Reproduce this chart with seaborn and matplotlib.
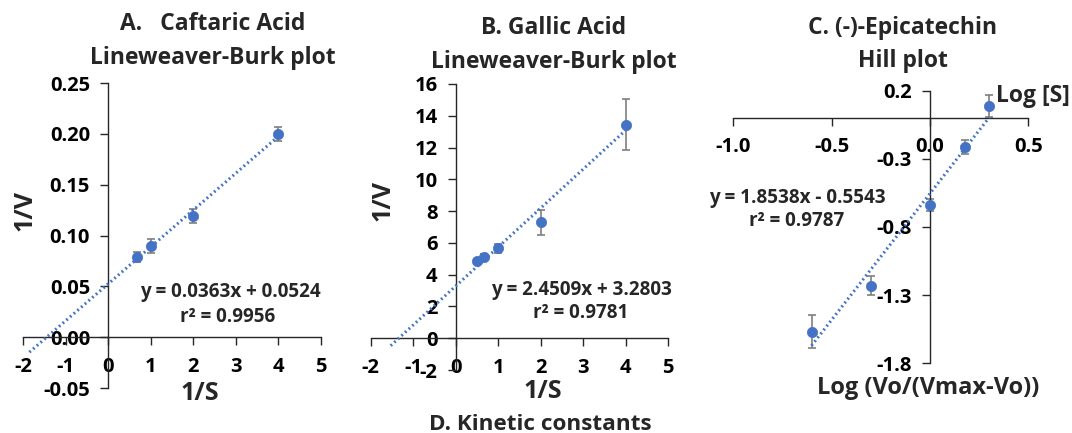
import numpy as np
import pandas as pd
import seaborn as sns
import matplotlib
matplotlib.use("Agg")
import matplotlib.pyplot as plt
from matplotlib.ticker import FormatStrFormatter

# ---------------- data ----------------
# Panel A: Caftaric acid (Lineweaver-Burk)
a_x = [0.667, 1.0, 2.0, 4.0]
a_y = [0.079, 0.090, 0.119, 0.200]
a_err = [0.005, 0.007, 0.007, 0.007]
a_slope, a_icpt = 0.0363, 0.0524
a_trend_range = [-1.85, 4.0]
a_eq = ["y = 0.0363x + 0.0524", "r² = 0.9956"]
a_title = ["A.   Caftaric Acid", "Lineweaver-Burk plot"]
a_xticks = [-2, -1, 0, 1, 2, 3, 4, 5]
a_yticks = [-0.05, 0.00, 0.05, 0.10, 0.15, 0.20, 0.25]

# Panel B: Gallic acid (Lineweaver-Burk)
b_x = [0.5, 0.667, 1.0, 2.0, 4.0]
b_y = [4.85, 5.10, 5.65, 7.30, 13.45]
b_err = [0.15, 0.2, 0.3, 0.8, 1.6]
b_slope, b_icpt = 2.4509, 3.2803
b_trend_range = [-1.53, 4.0]
b_eq = ["y = 2.4509x + 3.2803", "r² = 0.9781"]
b_title = ["B. Gallic Acid", "Lineweaver-Burk plot"]
b_xticks = [-2, -1, 0, 1, 2, 3, 4, 5]
b_yticks = [-2, 0, 2, 4, 6, 8, 10, 12, 14, 16]

# Panel C: (-)-Epicatechin (Hill plot)
c_x = [-0.602, -0.301, 0.0, 0.176, 0.301]
c_y = [-1.567, -1.232, -0.638, -0.215, 0.090]
c_err = [0.12, 0.07, 0.045, 0.05, 0.08]
c_slope, c_icpt = 1.8538, -0.5543
c_trend_range = [-0.602, 0.301]
c_eq = ["y = 1.8538x - 0.5543", "r² = 0.9787"]
c_title = ["C. (-)-Epicatechin", "Hill plot"]
c_xticks = [-1.0, -0.5, 0.0, 0.5]
c_yticks = [0.2, -0.3, -0.8, -1.3, -1.8]

bottom_caption = "D. Kinetic constants"

# ---------------- style ----------------
sns.set_theme(style="white")
FONT = ["Open Sans", "DejaVu Sans"]
plt.rcParams["font.family"] = FONT
plt.rcParams["font.weight"] = "bold"

BLUE = "#4472C4"
GRAY = "#7F7F7F"
W, H = 1072, 433
TITLE_FS = 16.5
EQ_FS = 13.6
TICK_FS = 14.5
LAB_FS = 18

fig = plt.figure(figsize=(W / 100, H / 100), dpi=100)


def add_axes_px(x0, x1, y_top, y_bot):
    return fig.add_axes([x0 / W, (H - y_bot) / H, (x1 - x0) / W, (y_bot - y_top) / H])


def ftext(x, y, s, **kw):
    fig.text(x / W, (H - y) / H, s, fontweight="bold", **kw)


def draw_panel(ax, xs, ys, errs, slope, icpt, trange, xlim, ylim, xticks, yticks, xfmt, yfmt):
    df = pd.DataFrame({"x": xs, "y": ys})
    tx = np.linspace(trange[0], trange[1], 50)
    tdf = pd.DataFrame({"x": tx, "y": slope * tx + icpt})
    ax.errorbar(xs, ys, yerr=errs, fmt="none", ecolor=GRAY, elinewidth=1.2,
                capsize=3, capthick=1.2, zorder=2)
    sns.lineplot(data=tdf, x="x", y="y", ax=ax, color=BLUE, lw=2.2,
                 linestyle=(0, (0.6, 1.0)), zorder=3)
    sns.scatterplot(data=df, x="x", y="y", ax=ax, color=BLUE, s=55,
                    edgecolor=BLUE, linewidth=0.5, zorder=4)
    ax.set_xlim(*xlim)
    ax.set_ylim(*ylim)
    ax.set_xticks(xticks)
    ax.set_yticks(yticks)
    ax.xaxis.set_major_formatter(FormatStrFormatter(xfmt))
    ax.yaxis.set_major_formatter(FormatStrFormatter(yfmt))
    ax.set_xlabel("")
    ax.set_ylabel("")
    for s in ["top", "right"]:
        ax.spines[s].set_visible(False)
    ax.spines["left"].set_position(("data", 0))
    ax.spines["bottom"].set_position(("data", 0))
    for s in ["left", "bottom"]:
        ax.spines[s].set_color("#262626")
        ax.spines[s].set_linewidth(1.0)
    ax.tick_params(axis="both", direction="out", length=6, width=1.0,
                   color="#262626", labelsize=TICK_FS, pad=7,
                   left=True, bottom=True)
    ax.tick_params(axis="x", pad=8)
    for lab in ax.get_xticklabels() + ax.get_yticklabels():
        lab.set_fontweight("bold")
        lab.set_color("black")
    ax.patch.set_alpha(0)


# Panel A
axA = add_axes_px(23, 321, 83, 388)
draw_panel(axA, a_x, a_y, a_err, a_slope, a_icpt, a_trend_range,
           (-2, 5), (-0.05, 0.25), a_xticks, a_yticks, "%d", "%.2f")
ftext(213, 24, a_title[0], ha="center", va="center", fontsize=TITLE_FS)
ftext(213, 58, a_title[1], ha="center", va="center", fontsize=TITLE_FS)
ftext(230, 292, a_eq[0], ha="center", va="center", fontsize=EQ_FS)
ftext(228, 317, a_eq[1], ha="center", va="center", fontsize=EQ_FS)
ftext(200, 394, "1/S", ha="center", va="center", fontsize=LAB_FS)
ftext(25, 210, "1/V", ha="center", va="center", fontsize=LAB_FS, rotation=90)

# Panel B
axB = add_axes_px(370.7, 668, 84, 370)
draw_panel(axB, b_x, b_y, b_err, b_slope, b_icpt, b_trend_range,
           (-2, 5), (-2, 16), b_xticks, b_yticks, "%d", "%d")
ftext(554, 28, b_title[0], ha="center", va="center", fontsize=TITLE_FS)
ftext(554, 62, b_title[1], ha="center", va="center", fontsize=TITLE_FS)
ftext(581, 290, b_eq[0], ha="center", va="center", fontsize=EQ_FS)
ftext(581, 313, b_eq[1], ha="center", va="center", fontsize=EQ_FS)
ftext(543, 391, "1/S", ha="center", va="center", fontsize=LAB_FS)
ftext(383, 200, "1/V", ha="center", va="center", fontsize=LAB_FS, rotation=90)
ftext(540, 424, bottom_caption, ha="center", va="center", fontsize=16.2)

# Panel C
axC = add_axes_px(733.3, 1028.3, 90.7, 363.3)
draw_panel(axC, c_x, c_y, c_err, c_slope, c_icpt, c_trend_range,
           (-1.0, 0.5), (-1.8, 0.2), c_xticks, c_yticks, "%.1f", "%.1f")
ftext(903, 28, c_title[0], ha="center", va="center", fontsize=TITLE_FS)
ftext(903, 61, c_title[1], ha="center", va="center", fontsize=TITLE_FS)
ftext(797, 198, c_eq[0], ha="center", va="center", fontsize=EQ_FS)
ftext(797, 221, c_eq[1], ha="center", va="center", fontsize=EQ_FS)
ftext(996, 96, "Log [S]", ha="left", va="center", fontsize=16.5)
ftext(928, 388, "Log (Vo/(Vmax-Vo))", ha="center", va="center", fontsize=17)

fig.savefig("out.png", dpi=100)
